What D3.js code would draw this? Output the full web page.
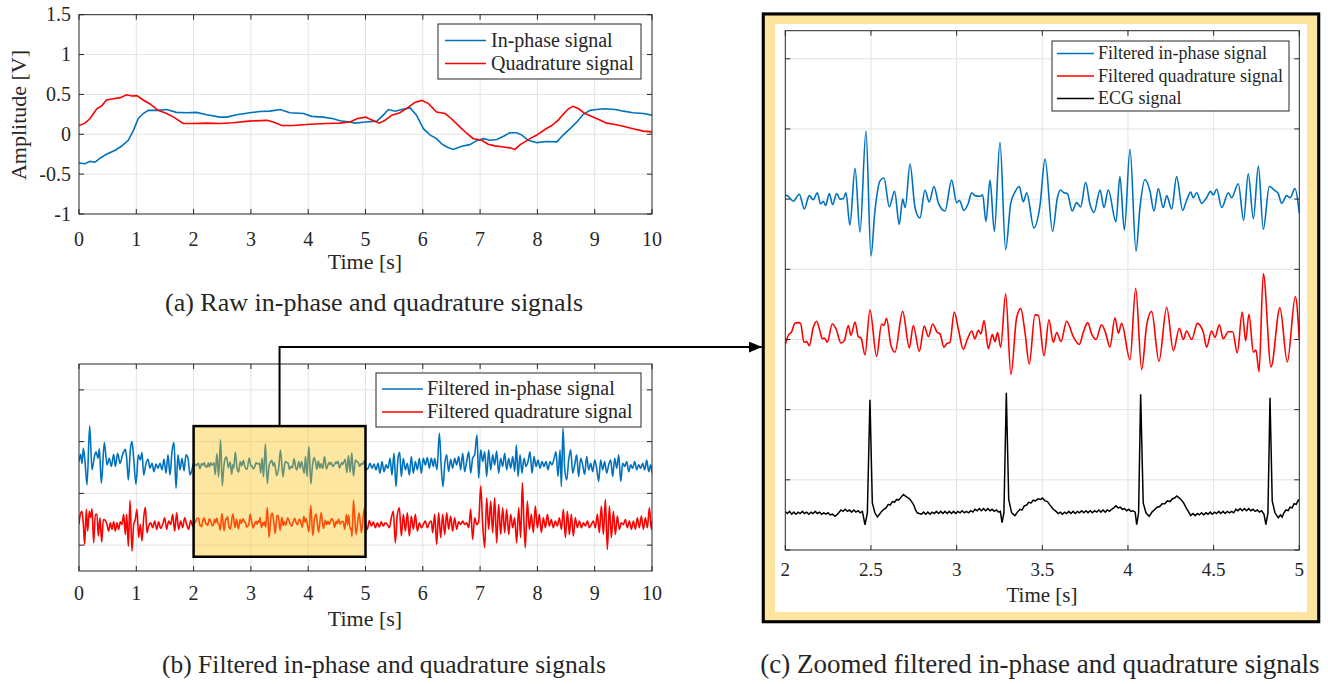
<!DOCTYPE html>
<html><head><meta charset="utf-8">
<script src="https://cdn.jsdelivr.net/npm/d3@7"></script>
<style>
body{margin:0;background:#fff}
text{font-family:"Liberation Serif","Times New Roman",Times,serif;fill:#262626}
</style>
</head><body>
<svg id="c" width="1328" height="684"></svg>
<script>
// ---------------- DATA ----------------
// (a) raw signals [V]
const rawIT = [0,0.105,0.19,0.28,0.37,0.48,0.63,0.74,0.86,0.95,1.035,1.12,1.21,1.36,1.53,1.70,1.88,2.05,2.23,2.46,2.58,2.75,2.98,3.16,3.33,3.51,3.68,3.92,4.06,4.26,4.44,4.55,4.73,4.82,5.0,5.20,5.31,5.40,5.52,5.63,5.78,5.89,6.01,6.13,6.24,6.33,6.42,6.53,6.68,6.82,6.94,7.06,7.17,7.29,7.41,7.52,7.64,7.73,7.84,7.99,8.16,8.34,8.45,8.57,8.69,8.80,8.92,9.03,9.18,9.36,9.50,9.67,9.85,10.0];
const rawIV = [-0.36,-0.37,-0.34,-0.35,-0.30,-0.25,-0.20,-0.15,-0.075,0.05,0.20,0.26,0.30,0.30,0.31,0.275,0.27,0.275,0.245,0.215,0.215,0.245,0.27,0.285,0.29,0.31,0.27,0.26,0.225,0.215,0.195,0.17,0.155,0.14,0.155,0.165,0.24,0.31,0.29,0.31,0.33,0.24,0.07,-0.01,-0.055,-0.12,-0.16,-0.19,-0.15,-0.13,-0.08,-0.055,-0.075,-0.065,-0.025,0.02,0.02,-0.01,-0.075,-0.105,-0.09,-0.095,-0.01,0.07,0.155,0.25,0.30,0.31,0.32,0.31,0.29,0.27,0.26,0.24];
const rawQT = [0,0.105,0.19,0.31,0.40,0.48,0.60,0.72,0.83,0.92,1.01,1.12,1.24,1.38,1.53,1.65,1.82,2.0,2.23,2.46,2.69,2.96,3.28,3.39,3.54,3.74,4.03,4.32,4.55,4.73,4.85,5.0,5.11,5.24,5.34,5.46,5.60,5.75,5.86,5.98,6.10,6.24,6.39,6.50,6.65,6.77,6.88,7.03,7.14,7.26,7.41,7.52,7.61,7.70,7.78,7.87,7.99,8.13,8.25,8.36,8.45,8.54,8.62,8.72,8.83,8.98,9.09,9.21,9.33,9.50,9.67,9.85,10.0];
const rawQV = [0.11,0.14,0.195,0.32,0.36,0.43,0.445,0.46,0.495,0.48,0.485,0.43,0.38,0.30,0.26,0.215,0.135,0.135,0.14,0.135,0.145,0.165,0.175,0.155,0.11,0.11,0.125,0.135,0.14,0.155,0.195,0.215,0.18,0.14,0.175,0.24,0.27,0.34,0.40,0.425,0.385,0.28,0.26,0.195,0.09,0.01,-0.055,-0.075,-0.125,-0.145,-0.16,-0.17,-0.19,-0.13,-0.095,-0.055,-0.01,0.06,0.11,0.175,0.25,0.32,0.35,0.32,0.26,0.215,0.18,0.14,0.125,0.10,0.07,0.04,0.03];

// filtered in-phase [time s, value] : 0-2 s, 2-5 s (zoomed), 5-10 s
const filtI_0to2 = [[0.000,0.13],[0.029,0.41],[0.052,0.06],[0.076,0.64],[0.105,0.13],[0.140,-0.77],[0.186,1.51],[0.227,-0.19],[0.268,0.32],[0.297,0.51],[0.332,0.26],[0.355,0.62],[0.390,-0.71],[0.442,0.86],[0.489,0.00],[0.529,0.26],[0.564,-0.06],[0.605,0.41],[0.634,-0.06],[0.675,0.45],[0.716,0.06],[0.762,0.41],[0.809,0.60],[0.832,0.26],[0.861,-0.58],[0.896,0.58],[0.925,0.90],[0.954,0.26],[0.995,-0.75],[1.035,0.39],[1.070,0.19],[1.099,0.48],[1.129,-0.39],[1.169,0.06],[1.204,0.22],[1.239,-0.13],[1.274,0.06],[1.309,-0.26],[1.344,0.03],[1.379,-0.13],[1.414,0.06],[1.449,-0.19],[1.483,0.23],[1.518,-0.32],[1.553,0.39],[1.588,-0.39],[1.623,0.51],[1.658,0.86],[1.693,-0.90],[1.728,0.39],[1.763,-0.19],[1.798,0.26],[1.833,-0.23],[1.867,0.39],[1.902,0.26],[1.937,-0.39],[1.972,-0.19]];
const filtI_2to5 = [[2.000,0.06],[2.018,0.04],[2.047,-0.03],[2.082,0.07],[2.111,-0.14],[2.140,0.05],[2.163,-0.01],[2.187,0.09],[2.206,-0.07],[2.222,-0.03],[2.235,-0.09],[2.257,0.08],[2.276,-0.08],[2.300,0.08],[2.319,0.00],[2.339,0.01],[2.354,0.09],[2.377,-0.37],[2.407,0.44],[2.436,-0.47],[2.471,0.97],[2.500,-0.81],[2.523,-0.17],[2.553,0.26],[2.576,0.30],[2.607,-0.11],[2.638,0.11],[2.665,-0.36],[2.685,0.00],[2.700,-0.12],[2.728,0.50],[2.757,-0.12],[2.786,-0.27],[2.815,0.13],[2.840,-0.04],[2.868,0.18],[2.893,-0.05],[2.932,-0.17],[2.971,0.27],[3.000,-0.05],[3.016,-0.02],[3.043,-0.16],[3.068,-0.06],[3.088,0.09],[3.107,0.05],[3.136,0.04],[3.152,0.06],[3.171,-0.32],[3.195,0.27],[3.220,-0.46],[3.253,0.81],[3.286,-0.72],[3.315,-0.07],[3.340,0.10],[3.366,0.18],[3.389,-0.04],[3.409,0.09],[3.451,-0.41],[3.486,-0.10],[3.516,0.57],[3.560,-0.46],[3.588,0.02],[3.607,0.13],[3.626,0.09],[3.646,0.08],[3.675,-0.17],[3.700,-0.05],[3.724,-0.11],[3.753,0.24],[3.778,-0.07],[3.802,-0.19],[3.837,0.13],[3.860,-0.12],[3.885,0.13],[3.930,-0.32],[3.953,0.32],[3.979,-0.44],[4.012,0.71],[4.047,-0.74],[4.070,-0.12],[4.099,0.28],[4.128,0.12],[4.152,-0.17],[4.177,0.15],[4.206,-0.12],[4.226,0.05],[4.255,-0.14],[4.284,0.32],[4.319,-0.16],[4.342,-0.02],[4.366,0.10],[4.381,0.02],[4.401,0.09],[4.430,-0.06],[4.459,0.02],[4.482,0.11],[4.498,0.06],[4.518,0.14],[4.547,-0.12],[4.586,0.09],[4.605,0.02],[4.644,0.22],[4.675,-0.30],[4.702,0.36],[4.732,-0.28],[4.761,0.47],[4.790,-0.43],[4.825,0.18],[4.858,0.12],[4.877,0.08],[4.897,-0.06],[4.926,0.05],[4.946,0.02],[4.975,0.15],[5.000,-0.20]];
const filtI_5to10 = [[5.044,-0.13],[5.079,0.06],[5.113,-0.13],[5.148,0.03],[5.183,-0.19],[5.218,0.06],[5.253,-0.32],[5.288,0.13],[5.323,-0.26],[5.358,0.00],[5.393,-0.13],[5.428,0.26],[5.462,-0.39],[5.497,0.45],[5.532,-0.84],[5.567,0.26],[5.596,0.49],[5.625,-0.45],[5.660,0.26],[5.695,-0.19],[5.730,0.06],[5.765,-0.39],[5.800,0.32],[5.835,-0.32],[5.870,0.13],[5.905,-0.19],[5.939,0.26],[5.974,-0.32],[6.009,0.26],[6.044,0.00],[6.079,0.28],[6.114,-0.13],[6.149,0.26],[6.184,-0.06],[6.207,0.26],[6.248,-0.19],[6.289,1.22],[6.323,-0.13],[6.352,-0.84],[6.382,0.00],[6.416,0.39],[6.451,-0.26],[6.486,0.22],[6.521,-0.13],[6.556,0.26],[6.591,0.00],[6.626,0.32],[6.661,-0.19],[6.696,0.45],[6.731,-0.26],[6.766,0.13],[6.801,0.51],[6.836,-0.32],[6.870,0.26],[6.905,0.39],[6.946,1.16],[6.975,-0.51],[7.010,0.58],[7.045,0.13],[7.080,0.51],[7.115,-0.45],[7.150,0.58],[7.185,-0.19],[7.220,0.39],[7.254,0.00],[7.289,0.54],[7.324,-0.32],[7.359,0.26],[7.394,-0.06],[7.429,0.45],[7.464,-0.19],[7.499,0.26],[7.534,-0.13],[7.569,0.32],[7.604,-0.26],[7.633,0.77],[7.662,-0.45],[7.697,0.39],[7.731,-0.32],[7.766,0.26],[7.801,-0.06],[7.836,0.13],[7.871,0.51],[7.906,-0.32],[7.941,0.32],[7.976,-0.06],[8.011,0.19],[8.046,-0.13],[8.081,0.13],[8.115,-0.06],[8.150,0.13],[8.185,-0.19],[8.220,0.13],[8.255,0.00],[8.290,0.23],[8.325,0.51],[8.360,-0.45],[8.395,0.58],[8.418,-0.84],[8.447,1.42],[8.476,-0.13],[8.511,-0.58],[8.546,0.19],[8.581,0.58],[8.616,-0.32],[8.651,0.00],[8.685,0.39],[8.720,-0.45],[8.755,0.26],[8.790,0.00],[8.825,-0.36],[8.860,0.32],[8.895,-0.19],[8.930,0.06],[8.965,-0.26],[9.000,0.19],[9.035,-0.13],[9.069,-0.64],[9.104,0.19],[9.139,-0.19],[9.174,0.13],[9.209,-0.32],[9.244,0.00],[9.279,0.19],[9.314,-0.45],[9.349,0.26],[9.384,-0.13],[9.419,0.39],[9.454,-0.64],[9.489,0.06],[9.524,-0.06],[9.559,0.13],[9.594,-0.26],[9.629,0.00],[9.663,-0.13],[9.698,0.13],[9.733,-0.19],[9.768,0.00],[9.803,-0.13],[9.838,0.06],[9.873,-0.19],[9.908,0.19],[9.943,-0.26],[9.977,0.00],[10.00,-0.32]];

// filtered quadrature [time s, value]
const filtQ_0to2 = [[0.000,0.00],[0.023,0.39],[0.052,0.51],[0.076,0.00],[0.099,-0.77],[0.128,0.58],[0.151,-0.26],[0.180,0.51],[0.204,0.26],[0.227,0.60],[0.256,-0.71],[0.285,0.39],[0.314,0.39],[0.337,-0.45],[0.366,0.26],[0.396,-0.68],[0.425,0.19],[0.460,0.15],[0.489,0.00],[0.518,-0.26],[0.547,0.06],[0.576,-0.19],[0.605,0.10],[0.634,-0.26],[0.663,0.06],[0.692,-0.19],[0.721,0.10],[0.750,0.00],[0.780,0.39],[0.809,-0.39],[0.832,0.39],[0.861,-0.84],[0.890,0.93],[0.925,-1.03],[0.954,0.00],[0.983,0.19],[1.012,0.58],[1.041,-0.51],[1.070,0.00],[1.099,-0.64],[1.129,0.26],[1.158,0.66],[1.187,-0.32],[1.216,-0.06],[1.251,0.06],[1.286,-0.13],[1.321,0.13],[1.356,-0.19],[1.390,0.10],[1.425,-0.15],[1.460,0.00],[1.495,0.26],[1.530,-0.19],[1.565,0.13],[1.600,0.00],[1.635,0.39],[1.670,-0.26],[1.704,0.45],[1.739,-0.19],[1.774,0.13],[1.809,-0.13],[1.844,0.26],[1.879,0.00],[1.914,-0.19],[1.949,0.15],[1.984,-0.06]];
const filtQ_2to5 = [[2.000,-0.07],[2.018,0.06],[2.037,0.11],[2.056,0.23],[2.076,0.24],[2.089,0.23],[2.109,-0.04],[2.125,-0.03],[2.140,-0.09],[2.163,0.17],[2.183,0.26],[2.202,0.12],[2.216,0.01],[2.228,0.02],[2.245,-0.04],[2.274,0.22],[2.296,0.15],[2.325,-0.05],[2.344,-0.02],[2.368,0.20],[2.383,0.06],[2.407,0.25],[2.426,0.04],[2.442,0.02],[2.465,-0.22],[2.494,0.42],[2.533,-0.24],[2.562,0.22],[2.576,0.20],[2.591,0.30],[2.617,-0.09],[2.640,-0.18],[2.685,0.40],[2.724,-0.12],[2.747,0.20],[2.782,-0.17],[2.811,0.19],[2.835,0.04],[2.860,0.22],[2.887,0.10],[2.903,0.08],[2.926,-0.11],[2.942,-0.06],[2.961,-0.04],[2.986,0.39],[3.010,0.15],[3.039,-0.14],[3.062,0.00],[3.088,0.12],[3.107,0.01],[3.126,0.13],[3.142,0.08],[3.160,0.27],[3.185,-0.13],[3.208,0.07],[3.224,-0.03],[3.239,0.10],[3.257,-0.11],[3.286,0.65],[3.317,-0.50],[3.350,0.31],[3.374,0.44],[3.399,0.10],[3.424,-0.35],[3.457,0.35],[3.477,0.34],[3.510,-0.23],[3.539,0.28],[3.564,-0.04],[3.584,0.10],[3.609,-0.03],[3.642,0.26],[3.681,0.04],[3.716,-0.07],[3.739,0.10],[3.765,0.24],[3.788,0.08],[3.813,0.00],[3.846,0.21],[3.870,0.09],[3.895,-0.11],[3.924,0.31],[3.944,0.09],[3.963,0.23],[4.012,-0.29],[4.045,0.73],[4.080,-0.43],[4.109,0.20],[4.138,0.40],[4.181,-0.31],[4.226,0.46],[4.265,-0.16],[4.300,0.16],[4.323,0.00],[4.342,0.12],[4.372,0.00],[4.405,0.23],[4.440,0.10],[4.459,-0.11],[4.488,0.12],[4.508,0.03],[4.533,0.21],[4.556,0.01],[4.586,0.11],[4.611,0.11],[4.638,-0.19],[4.667,0.39],[4.687,-0.02],[4.706,0.36],[4.732,-0.18],[4.747,-0.15],[4.765,-0.46],[4.790,0.94],[4.835,-0.39],[4.887,0.45],[4.930,-0.32],[4.977,0.61],[5.000,0.00]];
const filtQ_5to10 = [[5.032,-0.19],[5.067,0.15],[5.102,-0.06],[5.137,0.10],[5.172,-0.13],[5.207,0.06],[5.241,-0.10],[5.276,0.10],[5.311,-0.06],[5.346,0.06],[5.381,0.00],[5.416,-0.13],[5.451,0.26],[5.486,0.51],[5.521,-0.71],[5.556,0.39],[5.591,0.64],[5.626,-0.45],[5.660,0.39],[5.695,-0.26],[5.730,0.45],[5.765,-0.45],[5.800,0.32],[5.835,-0.19],[5.870,0.39],[5.905,-0.26],[5.940,0.06],[5.975,-0.13],[6.009,0.00],[6.044,0.13],[6.079,-0.13],[6.114,0.06],[6.149,0.13],[6.172,-0.32],[6.207,0.39],[6.242,-0.77],[6.277,0.45],[6.312,-0.51],[6.347,0.39],[6.382,-0.39],[6.417,0.45],[6.451,-0.19],[6.486,0.32],[6.521,-0.26],[6.556,0.26],[6.591,-0.19],[6.626,0.10],[6.661,0.00],[6.696,0.13],[6.731,0.00],[6.766,0.06],[6.801,-0.13],[6.835,0.58],[6.870,-0.58],[6.905,0.26],[6.940,0.00],[6.975,0.10],[7.010,1.48],[7.045,0.00],[7.080,-0.90],[7.115,1.03],[7.150,-0.19],[7.185,0.90],[7.219,-0.32],[7.254,1.03],[7.289,-0.71],[7.324,0.77],[7.359,-0.39],[7.394,0.64],[7.429,-0.32],[7.464,0.58],[7.499,-0.39],[7.534,0.39],[7.569,-0.13],[7.603,0.26],[7.638,-0.71],[7.673,0.64],[7.708,-0.51],[7.737,1.61],[7.766,0.00],[7.789,-0.90],[7.824,0.90],[7.859,-0.19],[7.894,0.39],[7.929,-0.32],[7.964,0.71],[7.999,-0.13],[8.034,0.39],[8.069,-0.32],[8.104,0.26],[8.139,-0.13],[8.174,0.39],[8.208,-0.06],[8.243,0.19],[8.278,-0.13],[8.313,0.13],[8.348,-0.06],[8.383,0.26],[8.418,-0.19],[8.453,0.58],[8.488,-0.51],[8.523,0.51],[8.558,-0.39],[8.592,0.39],[8.627,-0.45],[8.662,0.26],[8.697,-0.13],[8.732,0.13],[8.767,-0.13],[8.802,0.06],[8.837,-0.06],[8.872,0.13],[8.907,-0.13],[8.942,0.00],[8.976,0.13],[9.011,-0.13],[9.046,0.39],[9.081,-0.32],[9.116,0.71],[9.151,-0.39],[9.186,0.97],[9.221,-0.97],[9.256,0.71],[9.291,-0.51],[9.326,0.51],[9.360,-0.39],[9.395,0.32],[9.430,-0.19],[9.465,0.06],[9.500,0.00],[9.535,0.19],[9.570,-0.13],[9.605,0.13],[9.640,-0.19],[9.675,0.13],[9.710,-0.19],[9.744,0.26],[9.779,-0.13],[9.814,0.32],[9.849,-0.19],[9.884,0.26],[9.919,-0.13],[9.954,0.64],[9.989,-0.19],[10.00,0.13]];

// ECG (2-5 s) [time s, value]
const ecg_2to5 = [[2.000,0.01],[2.012,-0.02],[2.025,0.01],[2.037,-0.03],[2.050,0.00],[2.062,-0.03],[2.075,0.00],[2.087,-0.02],[2.100,0.01],[2.112,-0.02],[2.125,0.00],[2.137,-0.03],[2.150,0.00],[2.162,-0.02],[2.175,0.01],[2.187,-0.02],[2.200,0.00],[2.212,-0.03],[2.225,-0.01],[2.237,-0.03],[2.250,-0.01],[2.262,-0.04],[2.275,-0.03],[2.290,-0.06],[2.300,-0.04],[2.312,-0.01],[2.325,0.03],[2.337,0.01],[2.350,0.04],[2.362,0.01],[2.375,0.03],[2.387,0.00],[2.400,0.03],[2.412,0.00],[2.425,0.02],[2.437,-0.01],[2.450,0.01],[2.465,-0.18],[2.479,-0.01],[2.494,1.60],[2.508,0.13],[2.523,-0.01],[2.537,-0.07],[2.550,-0.03],[2.562,0.01],[2.575,0.04],[2.588,0.06],[2.601,0.11],[2.612,0.10],[2.625,0.15],[2.637,0.14],[2.650,0.18],[2.662,0.17],[2.675,0.21],[2.689,0.25],[2.700,0.23],[2.712,0.21],[2.725,0.19],[2.737,0.15],[2.750,0.10],[2.760,0.03],[2.770,-0.01],[2.782,-0.02],[2.795,-0.03],[2.807,0.00],[2.820,-0.03],[2.832,0.00],[2.845,-0.03],[2.857,0.00],[2.870,-0.02],[2.882,0.01],[2.895,-0.02],[2.907,0.01],[2.920,-0.02],[2.932,0.01],[2.945,-0.02],[2.957,0.01],[2.970,-0.02],[2.982,0.01],[2.995,-0.02],[3.007,0.01],[3.020,-0.01],[3.032,0.02],[3.045,-0.01],[3.057,0.01],[3.070,-0.01],[3.082,0.02],[3.095,0.00],[3.107,0.04],[3.120,0.02],[3.132,0.05],[3.145,0.02],[3.157,0.05],[3.170,0.02],[3.182,0.05],[3.195,0.02],[3.207,0.04],[3.220,0.01],[3.232,0.03],[3.245,0.00],[3.255,0.01],[3.265,-0.15],[3.276,-0.01],[3.290,1.70],[3.304,0.18],[3.321,-0.01],[3.340,-0.05],[3.355,0.00],[3.370,0.04],[3.382,0.03],[3.395,0.09],[3.409,0.10],[3.420,0.14],[3.435,0.13],[3.447,0.17],[3.460,0.16],[3.475,0.19],[3.490,0.18],[3.500,0.20],[3.516,0.16],[3.530,0.15],[3.545,0.10],[3.564,0.04],[3.580,0.01],[3.593,-0.02],[3.605,0.00],[3.617,-0.03],[3.630,0.00],[3.642,-0.02],[3.655,0.01],[3.667,-0.02],[3.680,0.01],[3.692,-0.02],[3.705,0.01],[3.717,-0.01],[3.730,0.02],[3.742,-0.01],[3.755,0.02],[3.767,-0.01],[3.780,0.02],[3.792,-0.01],[3.805,0.02],[3.817,0.00],[3.830,0.03],[3.842,0.00],[3.855,0.03],[3.867,0.00],[3.880,0.03],[3.892,0.01],[3.905,0.04],[3.917,0.06],[3.930,0.09],[3.942,0.06],[3.955,0.07],[3.967,0.04],[3.980,0.05],[3.992,0.02],[4.005,0.04],[4.017,0.01],[4.030,0.02],[4.042,0.00],[4.051,-0.18],[4.062,-0.01],[4.074,1.68],[4.089,0.13],[4.105,-0.01],[4.124,-0.06],[4.140,0.00],[4.158,0.04],[4.170,0.07],[4.185,0.08],[4.200,0.12],[4.215,0.12],[4.230,0.16],[4.245,0.15],[4.260,0.19],[4.272,0.20],[4.285,0.23],[4.300,0.20],[4.313,0.17],[4.325,0.13],[4.342,0.05],[4.355,0.00],[4.366,-0.05],[4.380,-0.02],[4.392,-0.05],[4.405,-0.02],[4.417,-0.04],[4.430,-0.01],[4.442,-0.04],[4.455,-0.01],[4.467,-0.03],[4.480,0.00],[4.492,-0.03],[4.505,0.00],[4.517,-0.02],[4.530,0.01],[4.542,-0.02],[4.555,0.01],[4.567,-0.02],[4.580,0.01],[4.592,-0.01],[4.605,0.01],[4.617,-0.01],[4.630,0.04],[4.642,0.02],[4.655,0.05],[4.667,0.02],[4.680,0.05],[4.692,0.02],[4.705,0.05],[4.717,0.02],[4.730,0.04],[4.742,0.01],[4.755,0.03],[4.767,0.00],[4.780,0.02],[4.794,-0.03],[4.805,-0.18],[4.817,-0.01],[4.829,1.63],[4.842,0.16],[4.858,-0.01],[4.877,-0.08],[4.890,-0.04],[4.900,-0.07],[4.910,-0.01],[4.922,0.03],[4.935,0.02],[4.946,0.07],[4.958,0.06],[4.970,0.12],[4.982,0.11],[4.994,0.17],[5.000,0.16]];

// ticks & labels
const rawXTicks = [0,1,2,3,4,5,6,7,8,9,10];
const rawYTicks = [-1,-0.5,0,0.5,1,1.5];
const filtYTicks = [-2,0,2,4];
const zoomXTicks = [2,2.5,3,3.5,4,4.5,5];
const zoomYTicks = [-4,-3,-2,-1,0,1,2,3];
const legendA = ["In-phase signal","Quadrature signal"];
const legendB = ["Filtered in-phase signal","Filtered quadrature signal"];
const legendC = ["Filtered in-phase signal","Filtered quadrature signal","ECG signal"];
const captions = ["(a) Raw in-phase and quadrature signals","(b) Filtered in-phase and quadrature signals","(c) Zoomed filtered in-phase and quadrature signals"];
const zoomWindow = [2,5];

// ---------------- DRAW ----------------
const BLUE="#0072BD", RED="#FF0000", BLACK="#000000", AXC="#262626", GRID="#e3e3e3";
const svg = d3.select("#c");
const defs = svg.append("defs");
let clipN = 0;

function panel(cfg){
  const g = svg.append("g");
  const x = d3.scaleLinear().domain(cfg.xd).range([cfg.l, cfg.r]);
  const y = d3.scaleLinear().domain(cfg.yd).range([cfg.b, cfg.t]);
  g.append("rect").attr("x",cfg.l).attr("y",cfg.t).attr("width",cfg.r-cfg.l).attr("height",cfg.b-cfg.t).attr("fill","#fff");
  g.selectAll(null).data(cfg.xt.filter(d=>d>cfg.xd[0]&&d<cfg.xd[1])).join("line")
    .attr("x1",d=>x(d)).attr("x2",d=>x(d)).attr("y1",cfg.t).attr("y2",cfg.b).attr("stroke",GRID).attr("stroke-width",1);
  g.selectAll(null).data(cfg.yt.filter(d=>d>cfg.yd[0]&&d<cfg.yd[1])).join("line")
    .attr("y1",d=>y(d)).attr("y2",d=>y(d)).attr("x1",cfg.l).attr("x2",cfg.r).attr("stroke",GRID).attr("stroke-width",1);
  const id = "clip"+(clipN++);
  defs.append("clipPath").attr("id",id).append("rect").attr("x",cfg.l).attr("y",cfg.t).attr("width",cfg.r-cfg.l).attr("height",cfg.b-cfg.t);
  const lines = g.append("g").attr("clip-path",`url(#${id})`);
  return {g,x,y,lines,cfg};
}
function axes(p, o){
  const {g,x,y,cfg} = p, tl = 5;
  const a = g.append("g").attr("stroke",AXC).attr("stroke-width",1).attr("fill","none");
  cfg.xt.forEach(d=>{
    a.append("line").attr("x1",x(d)).attr("x2",x(d)).attr("y1",cfg.b).attr("y2",cfg.b-tl);
    a.append("line").attr("x1",x(d)).attr("x2",x(d)).attr("y1",cfg.t).attr("y2",cfg.t+tl);
  });
  cfg.yt.forEach(d=>{
    a.append("line").attr("y1",y(d)).attr("y2",y(d)).attr("x1",cfg.l).attr("x2",cfg.l+tl);
    a.append("line").attr("y1",y(d)).attr("y2",y(d)).attr("x1",cfg.r).attr("x2",cfg.r-tl);
  });
  a.append("rect").attr("x",cfg.l).attr("y",cfg.t).attr("width",cfg.r-cfg.l).attr("height",cfg.b-cfg.t);
  g.selectAll(null).data(cfg.xt).join("text").attr("x",d=>x(d)).attr("y",o.xlabY)
    .attr("text-anchor","middle").style("font-size",o.tfs+"px").text(d=>String(d));
  if(o.ylab){
    g.selectAll(null).data(cfg.yt).join("text").attr("x",cfg.l-8).attr("y",d=>y(d)).attr("dy","0.33em")
      .attr("text-anchor","end").style("font-size",o.tfs+"px").text(d=>String(d));
  }
  g.append("text").attr("x",o.titleX).attr("y",o.titleY).attr("text-anchor","middle").style("font-size",o.lfs+"px").text("Time [s]");
}
function legend(o){
  const g = svg.append("g");
  g.append("rect").attr("x",o.x).attr("y",o.y).attr("width",o.w).attr("height",o.h).attr("fill","#fff").attr("stroke",AXC).attr("stroke-width",1);
  o.items.forEach((t,i)=>{
    const cy = o.y + o.first + i*o.step;
    g.append("line").attr("x1",o.x+o.l0).attr("x2",o.x+o.l1).attr("y1",cy).attr("y2",cy).attr("stroke",o.colors[i]).attr("stroke-width",1.6);
    g.append("text").attr("x",o.x+o.tx).attr("y",cy).attr("dy","0.32em").style("font-size",o.fs+"px").text(t);
  });
}
const pairs = (T,V)=>T.map((t,i)=>[t,V[i]]).filter(d=>d[1]!==undefined);

// ---- (a) ----
const pa = panel({l:79,r:652,t:14.7,b:214,xd:[0,10],yd:[-1,1.5],xt:rawXTicks,yt:rawYTicks});
const la = d3.line().x(d=>pa.x(d[0])).y(d=>pa.y(d[1]));
pa.lines.append("path").attr("d",la(pairs(rawIT,rawIV))).attr("fill","none").attr("stroke",BLUE).attr("stroke-width",1.6);
pa.lines.append("path").attr("d",la(pairs(rawQT,rawQV))).attr("fill","none").attr("stroke",RED).attr("stroke-width",1.6);
axes(pa,{xlabY:246,tfs:20,lfs:22,ylab:true,titleX:365,titleY:269});
svg.append("text").attr("transform","translate(26,115) rotate(-90)").attr("text-anchor","middle").style("font-size","22px").text("Amplitude [V]");
legend({x:438,y:24,w:203,h:55,first:16.5,step:23,l0:7,l1:48,tx:53,fs:20,items:legendA,colors:[BLUE,RED]});

// ---- (b) ----
const fullI = filtI_0to2.concat(filtI_2to5, filtI_5to10);
const fullQ = filtQ_0to2.concat(filtQ_2to5, filtQ_5to10);
const pb = panel({l:79,r:652,t:364,b:571,xd:[0,10],yd:[-3,5],xt:rawXTicks,yt:filtYTicks});
const offB = {I:1.1, Q:-1.2};
const lbI = d3.line().x(d=>pb.x(d[0])).y(d=>pb.y(d[1]+offB.I)).curve(d3.curveMonotoneX);
const lbQ = d3.line().x(d=>pb.x(d[0])).y(d=>pb.y(d[1]+offB.Q)).curve(d3.curveMonotoneX);
pb.lines.append("path").attr("d",lbI(fullI)).attr("fill","none").attr("stroke",BLUE).attr("stroke-width",1.6);
pb.lines.append("path").attr("d",lbQ(fullQ)).attr("fill","none").attr("stroke",RED).attr("stroke-width",1.6);
const boxTop = 2.6, boxBot = -2.45;
const bx0 = pb.x(zoomWindow[0]), bx1 = pb.x(zoomWindow[1]);
axes(pb,{xlabY:600,tfs:20,lfs:22,ylab:false,titleX:365,titleY:626});
svg.append("rect").attr("x",bx0).attr("y",pb.y(boxTop)).attr("width",bx1-bx0).attr("height",pb.y(boxBot)-pb.y(boxTop))
  .attr("fill","rgba(250,192,18,0.4)").attr("stroke","#000").attr("stroke-width",2.5);
legend({x:376,y:373,w:265,h:54,first:16,step:23,l0:6,l1:47,tx:51,fs:20,items:legendB,colors:[BLUE,RED]});

// connector arrow
defs.append("marker").attr("id","arr").attr("viewBox","0 0 12 10").attr("refX",12).attr("refY",5)
  .attr("markerWidth",13).attr("markerHeight",11).attr("markerUnits","userSpaceOnUse").attr("orient","auto")
  .append("path").attr("d","M0,0 L12,5 L0,10 Z").attr("fill","#000");
const bxc = (bx0+bx1)/2;
svg.append("path").attr("d",`M${bxc},${pb.y(boxTop)} L${bxc},347 L762,347`).attr("fill","none").attr("stroke","#000").attr("stroke-width",2).attr("marker-end","url(#arr)");

// ---- (c) frame ----
svg.append("rect").attr("x",762.3).attr("y",13).attr("width",557.4).attr("height",609.7).attr("fill","none").attr("stroke","#888").attr("stroke-width",1);
svg.append("rect").attr("x",763.3).attr("y",14).attr("width",555.4).attr("height",607.7).attr("fill","#FDE59F").attr("stroke","#000").attr("stroke-width",3);
svg.append("rect").attr("x",775).attr("y",24).attr("width",532).attr("height",588).attr("fill","#fff");

const pc = panel({l:785.3,r:1299.3,t:30.7,b:550,xd:[2,5],yd:[-4,3.4],xt:zoomXTicks,yt:zoomYTicks});
const offC = {I:1.0, Q:-1.0, E:-3.46};
const lc = off=>d3.line().x(d=>pc.x(d[0])).y(d=>pc.y(d[1]+off)).curve(d3.curveMonotoneX);
pc.lines.append("path").attr("d",lc(offC.I)(filtI_2to5)).attr("fill","none").attr("stroke",BLUE).attr("stroke-width",1.6);
pc.lines.append("path").attr("d",lc(offC.Q)(filtQ_2to5)).attr("fill","none").attr("stroke",RED).attr("stroke-width",1.6);
const le = d3.line().x(d=>pc.x(d[0])).y(d=>pc.y(d[1]+offC.E));
pc.lines.append("path").attr("d",le(ecg_2to5)).attr("fill","none").attr("stroke",BLACK).attr("stroke-width",1.5);
axes(pc,{xlabY:576,tfs:19,lfs:21,ylab:false,titleX:1042,titleY:602});
legend({x:1052,y:41,w:237,h:70,first:12.5,step:22.5,l0:5,l1:42,tx:46,fs:18,items:legendC,colors:[BLUE,RED,BLACK]});

// captions
svg.append("text").attr("x",374).attr("y",311).attr("text-anchor","middle").style("font-size","26px").text(captions[0]);
svg.append("text").attr("x",384).attr("y",673).attr("text-anchor","middle").style("font-size","25.5px").text(captions[1]);
svg.append("text").attr("x",1040).attr("y",673).attr("text-anchor","middle").style("font-size","27px").text(captions[2]);
</script>
</body></html>
